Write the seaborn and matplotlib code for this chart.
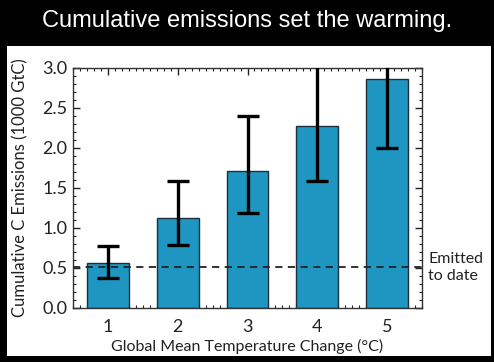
import matplotlib
matplotlib.use("Agg")
import matplotlib.pyplot as plt
from matplotlib.patches import Rectangle
from matplotlib.ticker import MultipleLocator
import numpy as np
import pandas as pd
import seaborn as sns

warming = [1, 2, 3, 4, 5]
emissions = [0.56, 1.13, 1.71, 2.28, 2.86]
err_low = [0.38, 0.79, 1.19, 1.59, 2.00]
err_high = [0.78, 1.59, 2.40, 3.20, 3.20]
emitted_to_date = 0.51

df = pd.DataFrame({"warming": warming, "emissions": emissions})

sns.set_style("ticks")
plt.rcParams["font.family"] = ["Lato", "DejaVu Sans"]

fig = plt.figure(figsize=(4.94, 3.62), dpi=100, facecolor="black")
fig.patches.append(Rectangle((7 / 494, 1 - 356 / 362), 484 / 494, 310 / 362,
                             transform=fig.transFigure, facecolor="white",
                             edgecolor="none", zorder=-5))
fig.text(0.5, 1 - 21 / 362, "Cumulative emissions set the warming.",
         color="white", ha="center", va="center", fontsize=17,
         family=["Liberation Sans", "DejaVu Sans"])

ax = fig.add_axes([73 / 494, 1 - 308 / 362, 349 / 494, 240 / 362])
ax.patch.set_alpha(0)
sns.barplot(data=df, x="warming", y="emissions", native_scale=True, width=0.6,
            color="#1f96c1", saturation=1, edgecolor="#1c2f3c", linewidth=1.0,
            errorbar=None, ax=ax, zorder=2)
vals = np.array(emissions)
yerr = [vals - np.array(err_low), np.array(err_high) - vals]
ax.errorbar(warming, emissions, yerr=yerr, fmt="none", ecolor="black",
            elinewidth=2.4, capsize=8, capthick=2.4, zorder=3)
ax.axhline(emitted_to_date, color="#222222", ls=(0, (4, 3)), lw=1.3, zorder=4)

ax.set_xlim(0.5, 5.5)
ax.set_ylim(0, 3.0)
ax.set_xticks(warming)
ax.set_yticks([0, 0.5, 1.0, 1.5, 2.0, 2.5, 3.0])
ax.set_yticklabels(["0.0", "0.5", "1.0", "1.5", "2.0", "2.5", "3.0"])
ax.xaxis.set_minor_locator(MultipleLocator(0.1))
ax.yaxis.set_minor_locator(MultipleLocator(0.1))
ax.tick_params(which="both", direction="in", top=True, right=True,
               colors="#222222", labelcolor="#222222")
ax.tick_params(which="major", length=5, width=1, labelsize=13)
ax.tick_params(axis="y", which="major", pad=4)
ax.tick_params(axis="x", which="major", pad=8)
ax.tick_params(which="minor", length=2.5, width=0.8)
for s in ax.spines.values():
    s.set_linewidth(1.0)
    s.set_color("#333333")
ax.set_xlabel("Global Mean Temperature Change (°C)", fontsize=11.5,
              color="#222222", labelpad=3)
ax.set_ylabel("Cumulative C Emissions (1000 GtC)", fontsize=12,
              color="#222222", labelpad=10)
ax.text(1.018, emitted_to_date, "Emitted\nto date", transform=ax.get_yaxis_transform(),
        ha="left", va="center", fontsize=11.5, color="#222222", linespacing=1.3)

fig.savefig("out.png", dpi=100, facecolor="black")
